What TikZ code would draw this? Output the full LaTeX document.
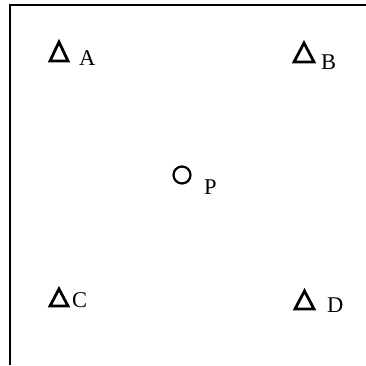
\documentclass[tikz,border=0pt]{standalone}
\usepackage{fontspec}
\setmainfont{Liberation Serif}
\begin{document}
\begin{tikzpicture}[x=1pt,y=-1pt,
  frame/.style={line width=2pt},
  tri/.style={line width=2.8pt,line join=miter},
  site/.style={line width=2.2pt},
  lbl/.style={anchor=base west,inner sep=0pt,font=\fontsize{22.5}{26}\selectfont}]
\useasboundingbox (0,0) rectangle (366,365);
\coordinate (tl) at (10,5);
\coordinate (tr) at (366,5);
\coordinate (bl) at (10,365);
\draw[frame] (tr) -- (tl) -- (bl);
% triangles
\draw[tri] (50,61) -- (68,61) -- (59,42) -- cycle;
\draw[tri] (294,62) -- (314,62) -- (304,43) -- cycle;
\draw[tri] (50,306) -- (68,306) -- (59,289) -- cycle;
\draw[tri] (295,309) -- (314,309) -- (304.5,291) -- cycle;
\node[site,draw,circle,minimum size=17pt,inner sep=0pt] (p) at (182,175) {};
\node[lbl] (la) at (79,65) {A};
\node[lbl] (lb) at (321,69) {B};
\node[lbl] (lp) at (204,194) {P};
\node[lbl] (lc) at (72,307) {C};
\node[lbl] (ld) at (327,312) {D};
\end{tikzpicture}
\end{document}
